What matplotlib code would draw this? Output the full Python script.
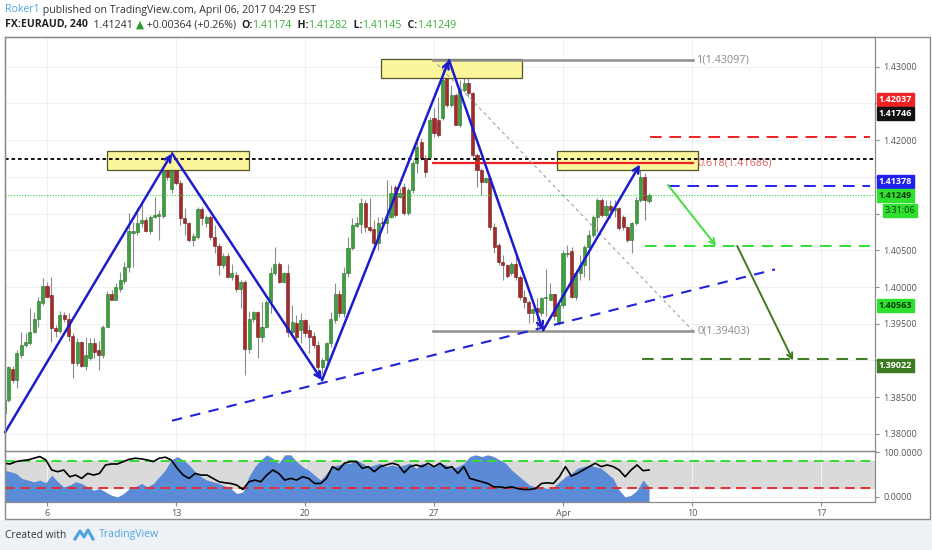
import matplotlib
matplotlib.use("Agg")
import matplotlib.pyplot as plt
import numpy as np
from matplotlib.patches import Rectangle
from matplotlib.lines import Line2D

plt.rcParams['font.family'] = ['Open Sans', 'DejaVu Sans']

W, H = 932, 550

# EURAUD 4h candles
opens = [
    1.3829, 1.3846, 1.3889, 1.3873, 1.3908, 1.3921, 1.3924, 1.3939, 1.3957, 1.3978,
    1.4001, 1.3989, 1.3944, 1.3940, 1.3962, 1.3956, 1.3934, 1.3897, 1.3925, 1.3893,
    1.3904, 1.3924, 1.3914, 1.3908, 1.3946, 1.3991, 1.3983, 1.3998, 1.4008, 1.4027,
    1.4073, 1.4075, 1.4087, 1.4091, 1.4076, 1.4095, 1.4097, 1.4097, 1.4159, 1.4133,
    1.4169, 1.4141, 1.4094, 1.4087, 1.4064, 1.4068, 1.4106, 1.4087, 1.4095, 1.4068,
    1.4056, 1.4030, 1.4042, 1.4013, 1.4017, 1.3998, 1.4007, 1.3915, 1.3956, 1.3966,
    1.3932, 1.3945, 1.3979, 1.4019, 1.4032, 1.4007, 1.4019, 1.3939, 1.3951, 1.3941,
    1.3955, 1.3942, 1.3933, 1.3921, 1.3891, 1.3900, 1.3924, 1.3955, 1.3991, 1.3964,
    1.4019, 1.4053, 1.4083, 1.4086, 1.4114, 1.4082, 1.4079, 1.4060, 1.4088, 1.4087,
    1.4095, 1.4136, 1.4122, 1.4136, 1.4101, 1.4132, 1.4169, 1.4197, 1.4176, 1.4177,
    1.4230, 1.4227, 1.4230, 1.4285, 1.4248, 1.4261, 1.4221, 1.4268, 1.4278, 1.4264,
    1.4180, 1.4159, 1.4143, 1.4148, 1.4082, 1.4057, 1.4034, 1.4030, 1.4019, 1.4031,
    1.4013, 1.3986, 1.3979, 1.3964, 1.3971, 1.3964, 1.3985, 1.3983, 1.3990, 1.3952,
    1.3975, 1.4045, 1.4049, 1.3986, 1.4019, 1.4030, 1.4054, 1.4071, 1.4095, 1.4118,
    1.4098, 1.4110, 1.4105, 1.4107, 1.4096, 1.4082, 1.4064, 1.4087, 1.4118, 1.4150,
    1.41174]
highs = [
    1.3851, 1.3893, 1.3892, 1.3914, 1.3939, 1.3937, 1.3972, 1.3966, 1.3986, 1.4012,
    1.4007, 1.4013, 1.3948, 1.3968, 1.3966, 1.3964, 1.3937, 1.3930, 1.3927, 1.3932,
    1.3930, 1.3930, 1.3927, 1.3948, 1.3994, 1.3996, 1.4005, 1.4020, 1.4034, 1.4101,
    1.4088, 1.4107, 1.4114, 1.4095, 1.4098, 1.4122, 1.4105, 1.4173, 1.4166, 1.4182,
    1.4173, 1.4146, 1.4107, 1.4088, 1.4073, 1.4109, 1.4109, 1.4098, 1.4098, 1.4084,
    1.4060, 1.4046, 1.4046, 1.4032, 1.4020, 1.4009, 1.4009, 1.3968, 1.3968, 1.3968,
    1.3979, 1.3982, 1.4027, 1.4054, 1.4034, 1.4020, 1.4032, 1.3975, 1.3962, 1.3964,
    1.3957, 1.3948, 1.3939, 1.3927, 1.3904, 1.3925, 1.3966, 1.4005, 1.3996, 1.4027,
    1.4068, 1.4094, 1.4095, 1.4121, 1.4118, 1.4121, 1.4091, 1.4095, 1.4095, 1.4146,
    1.4139, 1.4139, 1.4135, 1.4141, 1.4135, 1.4173, 1.4203, 1.4203, 1.4180, 1.4231,
    1.4244, 1.4259, 1.4285, 1.4310, 1.4275, 1.4264, 1.4282, 1.4300, 1.4291, 1.4266,
    1.4182, 1.4162, 1.4150, 1.4150, 1.4087, 1.4060, 1.4043, 1.4032, 1.4034, 1.4046,
    1.4016, 1.3996, 1.3982, 1.3972, 1.3985, 1.3987, 1.4025, 1.4005, 1.3991, 1.3979,
    1.4050, 1.4057, 1.4054, 1.4023, 1.4043, 1.4057, 1.4077, 1.4098, 1.4121, 1.4121,
    1.4118, 1.4118, 1.4118, 1.4109, 1.4098, 1.4083, 1.4088, 1.4122, 1.4159, 1.4155,
    1.41282]
lows = [
    1.3816, 1.3843, 1.3870, 1.3862, 1.3904, 1.3918, 1.3921, 1.3937, 1.3945, 1.3975,
    1.3986, 1.3925, 1.3932, 1.3937, 1.3952, 1.3927, 1.3876, 1.3893, 1.3891, 1.3887,
    1.3900, 1.3904, 1.3887, 1.3903, 1.3945, 1.3982, 1.3982, 1.3993, 1.4004, 1.4020,
    1.4027, 1.4071, 1.4082, 1.4075, 1.4072, 1.4094, 1.4064, 1.4094, 1.4146, 1.4128,
    1.4139, 1.4084, 1.4071, 1.4061, 1.4056, 1.4066, 1.4084, 1.4082, 1.4064, 1.4046,
    1.4016, 1.4026, 1.4012, 1.4009, 1.3993, 1.3971, 1.3880, 1.3910, 1.3952, 1.3903,
    1.3925, 1.3944, 1.3964, 1.4016, 1.4006, 1.4005, 1.3932, 1.3934, 1.3927, 1.3924,
    1.3932, 1.3910, 1.3917, 1.3882, 1.3882, 1.3891, 1.3919, 1.3951, 1.3959, 1.3959,
    1.4013, 1.4050, 1.4082, 1.4073, 1.4075, 1.4075, 1.4057, 1.4050, 1.4082, 1.4073,
    1.4094, 1.4095, 1.4121, 1.4098, 1.4098, 1.4128, 1.4155, 1.4173, 1.4150, 1.4176,
    1.4204, 1.4204, 1.4227, 1.4245, 1.4245, 1.4221, 1.4218, 1.4266, 1.4259, 1.4177,
    1.4136, 1.4125, 1.4141, 1.4077, 1.4047, 1.4030, 1.4009, 1.4012, 1.4016, 1.4009,
    1.3982, 1.3972, 1.3951, 1.3952, 1.3941, 1.3961, 1.3961, 1.3982, 1.3955, 1.3948,
    1.3972, 1.4041, 1.3985, 1.3982, 1.4009, 1.4013, 1.4009, 1.4068, 1.4075, 1.4095,
    1.4095, 1.4094, 1.4095, 1.4077, 1.4077, 1.4061, 1.4047, 1.4084, 1.4116, 1.4091,
    1.41145]
closes = [
    1.3846, 1.3891, 1.3873, 1.3910, 1.3921, 1.3925, 1.3939, 1.3957, 1.3981, 1.4001,
    1.3987, 1.3944, 1.3940, 1.3962, 1.3956, 1.3934, 1.3897, 1.3925, 1.3893, 1.3908,
    1.3924, 1.3912, 1.3908, 1.3946, 1.3991, 1.3983, 1.4000, 1.4009, 1.4027, 1.4076,
    1.4076, 1.4087, 1.4091, 1.4076, 1.4095, 1.4098, 1.4099, 1.4162, 1.4150, 1.4173,
    1.4141, 1.4094, 1.4087, 1.4064, 1.4069, 1.4106, 1.4094, 1.4095, 1.4068, 1.4056,
    1.4030, 1.4042, 1.4013, 1.4019, 1.3998, 1.4007, 1.3915, 1.3956, 1.3966, 1.3932,
    1.3945, 1.3979, 1.4019, 1.4032, 1.4007, 1.4019, 1.3939, 1.3952, 1.3932, 1.3955,
    1.3937, 1.3932, 1.3921, 1.3891, 1.3900, 1.3924, 1.3956, 1.3991, 1.3964, 1.4019,
    1.4053, 1.4084, 1.4087, 1.4114, 1.4082, 1.4077, 1.4060, 1.4087, 1.4087, 1.4095,
    1.4128, 1.4098, 1.4128, 1.4101, 1.4132, 1.4169, 1.4191, 1.4176, 1.4156, 1.4227,
    1.4210, 1.4207, 1.4282, 1.4248, 1.4261, 1.4221, 1.4268, 1.4278, 1.4264, 1.4180,
    1.4159, 1.4143, 1.4148, 1.4082, 1.4054, 1.4034, 1.4030, 1.4015, 1.4031, 1.4013,
    1.3986, 1.3979, 1.3964, 1.3970, 1.3966, 1.3985, 1.3987, 1.3990, 1.3961, 1.3975,
    1.4046, 1.4047, 1.3986, 1.4019, 1.4030, 1.4054, 1.4071, 1.4095, 1.4118, 1.4098,
    1.4110, 1.4105, 1.4107, 1.4080, 1.4082, 1.4064, 1.4087, 1.4118, 1.4150, 1.4118,
    1.41249]

# oscillator pane (sampled evenly over the same candles)
osc_line = [
    75.8, 74.2, 79.5, 81.8, 83.3, 87.1, 90.9, 83.3, 60.6, 56.8,
    60.6, 45.5, 49.2, 41.7, 53.0, 49.2, 53.0, 72.0, 74.2, 74.2,
    79.5, 84.8, 87.1, 85.6, 83.3, 79.5, 87.1, 89.4, 83.3, 64.4,
    49.2, 41.7, 53.0, 49.2, 49.2, 41.7, 34.1, 31.8, 30.3, 26.5,
    16.7, 34.1, 37.9, 34.1, 49.2, 60.6, 53.0, 37.9, 41.7, 37.9,
    45.5, 41.7, 30.3, 30.3, 41.7, 68.2, 60.6, 75.8, 79.5, 79.5,
    64.4, 68.2, 56.8, 68.2, 72.0, 75.8, 72.0, 54.5, 68.2, 72.0,
    68.2, 75.8, 68.2, 75.8, 64.4, 68.2, 53.0, 68.2, 41.7, 37.9,
    34.1, 30.3, 22.7, 22.7, 20.5, 22.7, 18.9, 16.7, 16.7, 18.9,
    30.3, 31.8, 30.3, 45.5, 68.2, 47.0, 53.0, 60.6, 68.2, 75.8,
    68.2, 72.0, 68.2, 60.6, 45.5, 60.6, 72.0, 59.1, 60.6]
osc_area = [
    60.6, 56.8, 53.0, 41.7, 37.9, 34.1, 37.9, 31.8, 49.2, 34.1,
    22.7, 26.5, 34.1, 30.3, 22.7, 15.2, 18.9, 11.4, 3.8, 0.0,
    7.6, 18.9, 22.7, 30.3, 22.7, 30.3, 45.5, 60.6, 83.3, 90.9,
    83.3, 72.0, 56.8, 45.5, 37.9, 34.1, 30.3, 24.2, 18.9, 7.6,
    11.4, 45.5, 68.2, 83.3, 94.8, 87.1, 75.8, 94.8, 94.8, 79.5,
    68.2, 60.6, 49.2, 37.9, 53.0, 68.2, 72.0, 75.8, 75.8, 83.3,
    75.8, 68.2, 72.0, 75.8, 68.2, 72.0, 68.2, 72.0, 75.8, 64.4,
    75.8, 72.0, 68.2, 75.8, 72.0, 64.4, 68.2, 75.8, 90.9, 94.8,
    90.9, 94.8, 90.9, 83.3, 75.8, 60.6, 49.2, 37.9, 26.5, 22.7,
    22.7, 18.9, 22.7, 34.1, 45.5, 53.0, 64.4, 68.2, 72.0, 68.2,
    64.4, 53.0, 41.7, 15.2, 0.0, 3.8, 15.2, 37.9, 22.7]

week_ticks = [10, 40, 70, 100, 130, 160, 190]
week_labels = ['6', '13', '20', '27', 'Apr', '10', '17']

price_ticks = [1.380, 1.385, 1.390, 1.395, 1.400, 1.405, 1.410, 1.415, 1.420, 1.425, 1.430]
# ticks whose labels sit under a coloured price tag
covered_ticks = [1.390, 1.410, 1.415, 1.425]

fib_high, fib_618, fib_low = 1.43097, 1.41686, 1.39403
lvl_black = 1.41746
lvl_red = 1.42037
lvl_blue = 1.41378
lvl_green = 1.40563
lvl_dkgreen = 1.39022
last_price = 1.41249

fig = plt.figure(figsize=(W / 100, H / 100), dpi=100)
fig.patch.set_facecolor('white')


def fx(px):
    return px / W


def fy(py):
    return 1 - py / H


# footer band
fig.add_artist(Rectangle((0, 0), 1, fy(520), transform=fig.transFigure,
                         fc='#eef1f5', ec='none', zorder=0))

ax = fig.add_axes([fx(5), fy(450.5), fx(870), (450.5 - 37) / H])
ax2 = fig.add_axes([fx(5), fy(502), fx(870), (502 - 450.5) / H])

xmin, xmax = 0.23, 202.56
for a in (ax, ax2):
    a.set_xlim(xmin, xmax)
    a.set_xticks(week_ticks)
    a.grid(True, color='#f0f0f0', lw=0.8, zorder=0)
    for s in a.spines.values():
        s.set_color('#8c8c8c')
        s.set_linewidth(0.9)
    a.yaxis.tick_right()
    a.tick_params(axis='y', labelsize=6.5, labelcolor='#555555', color='#8c8c8c', length=3, pad=3)

ax.set_ylim(1.37774, 1.43405)
ax.set_yticks(price_ticks)
ax.set_yticklabels(['' if any(abs(v - cv) < 1e-9 for cv in covered_ticks) else '%.5f' % v
                    for v in price_ticks])
ax.tick_params(axis='x', length=0, labelbottom=False)

# candles
o = np.array(opens)
h = np.array(highs)
l = np.array(lows)
c = np.array(closes)
xi = np.arange(len(c))
up = c >= o
body_col = np.where(up, '#3f9e3f', '#a52a2a')
edge_col = np.where(up, '#2b6f2b', '#6f1d1d')
ax.vlines(xi, l, h, color='#8c8c8c', lw=0.8, zorder=2)
ax.bar(xi, np.maximum(np.abs(c - o), 0.00005), bottom=np.minimum(o, c), width=0.72,
       color=body_col, edgecolor=edge_col, lw=0.4, zorder=3)

# boxes
for x0, x1, y0, y1 in [(23.95, 56.98, 1.4159, 1.4185), (87.67, 120.47, 1.4285, 1.4311),
                       (128.6, 161.4, 1.4159, 1.4185)]:
    ax.add_patch(Rectangle((x0, y0), x1 - x0, y1 - y0, fc='#fbf59b', ec='#55552a', lw=0.9, zorder=4))

# fib retracement
ax.plot([99.77, 160.23], [fib_high, fib_high], color='#8f8f8f', lw=1.8, zorder=5)
ax.plot([99.77, 160.23], [fib_low, fib_low], color='#8f8f8f', lw=1.8, zorder=5)
ax.plot([99.77, 160.23], [fib_618, fib_618], color='#ee2222', lw=1.6, zorder=5)
ax.plot([99.77, 160.23], [fib_high, fib_low], color='#a0a0a0', lw=0.8, ls=(0, (3, 3)), zorder=5)
ax.text(161.2, fib_high, '1(%.5f)' % fib_high, color='#8a8a8a', fontsize=7.8, va='center', zorder=6)
ax.text(161.2, fib_618, '0.618(%.5f)' % fib_618, color='#e06060', fontsize=7.8, va='center', zorder=6)
ax.text(161.2, fib_low, '0(%.5f)' % fib_low, color='#8a8a8a', fontsize=7.8, va='center', zorder=6)

# horizontal levels
ax.axhline(lvl_black, color='black', lw=1.3, ls=(0, (2, 1.6)), zorder=6)
ax.axhline(last_price, color='#33dd33', lw=0.8, ls=(0, (1, 1.5)), zorder=6)
ax.plot([150.2, 201.4], [lvl_red, lvl_red], color='#ee2222', lw=1.4, ls=(0, (6, 4)), zorder=6)
ax.plot([154.4, 201.4], [lvl_blue, lvl_blue], color='#2222ee', lw=1.4, ls=(0, (6, 4)), zorder=6)
ax.plot([149.1, 201.4], [lvl_green, lvl_green], color='#33dd33', lw=1.4, ls=(0, (6, 4)), zorder=6)
ax.plot([148.4, 202.6], [lvl_dkgreen, lvl_dkgreen], color='#3d7a22', lw=1.4, ls=(0, (6, 4)), zorder=6)

# trend line
ax.plot([39.07, 179.3], [1.3818, 1.4024], color='#2222dd', lw=1.5, ls=(0, (5, 4)), zorder=6)

# zigzag with arrowheads
zig_x = [0.23, 39.07, 73.95, 103.49, 125.35, 147.91]
zig_y = [1.3802, 1.4182, 1.3873, 1.4309, 1.3941, 1.4167]
for i in range(len(zig_x) - 1):
    ax.annotate('', xy=(zig_x[i + 1], zig_y[i + 1]), xytext=(zig_x[i], zig_y[i]),
                arrowprops=dict(arrowstyle='->', color='#1c1ccc', lw=1.8,
                                shrinkA=0, shrinkB=0, mutation_scale=11), zorder=7)

ax.annotate('', xy=(165.6, 1.4056), xytext=(154.4, 1.4139),
            arrowprops=dict(arrowstyle='->', color='#44dd44', lw=1.4, shrinkA=0, shrinkB=0,
                            mutation_scale=10), zorder=7)
ax.annotate('', xy=(183.5, 1.3900), xytext=(170.5, 1.4056),
            arrowprops=dict(arrowstyle='->', color='#3d7a22', lw=1.4, shrinkA=0, shrinkB=0,
                            mutation_scale=10), zorder=7)

# price-axis tags
ytr = ax.get_yaxis_transform()
tags = [(1.4255, '1.42037', '#ee2222', 'white'),
        (1.42362, '1.41746', '#111111', 'white'),
        (1.41435, '1.41378', '#2020ee', 'white'),
        (1.41247, '1.41249', '#2fe02f', '#0b3d0b'),
        (1.39744, '1.40563', '#2fe02f', '#0b3d0b'),
        (1.38933, '1.39022', '#3d7a22', 'white')]
for yv, s, fc, tc in tags:
    ax.text(1.0045, yv, s, transform=ytr, fontsize=6.5, fontweight='bold', color=tc,
            va='center', ha='left', clip_on=False, zorder=10,
            bbox=dict(boxstyle='square,pad=0.22', fc=fc, ec=fc))
ax.text(1.011, 1.4104, '3:31:06', transform=ytr, fontsize=6.5, color='#0b3d0b',
        va='center', ha='left', clip_on=False, zorder=10,
        bbox=dict(boxstyle='square,pad=0.22', fc='#2fe02f', ec='#2fe02f'))

# oscillator pane
ax2.set_ylim(-11.4, 104.5)
ax2.set_yticks([0, 100])
ax2.set_yticklabels(['0.0000', '100.0000'])
ax2.set_xticks(week_ticks)
ax2.set_xticklabels(week_labels)
ax2.tick_params(axis='x', labelsize=6.5, labelcolor='#555555', color='#8c8c8c', length=3, pad=2)
ax2.axhspan(20, 80, color='#dadada', zorder=1)
xo = np.linspace(0, len(c) - 1, len(osc_area))
ax2.fill_between(xo, -11.4, osc_area, color='#5b8bd6', lw=0, zorder=2)
ax2.plot(xo, osc_line, color='black', lw=1.2, zorder=4)
ax2.axhline(80, color='#33dd33', lw=1.4, ls=(0, (5, 3)), zorder=3)
ax2.axhline(20, color='#dd3333', lw=1.4, ls=(0, (5, 3)), zorder=3)

# outer frame
fig.add_artist(Rectangle((fx(5), fy(519)), fx(925), (519 - 37) / H, transform=fig.transFigure,
                         fill=False, ec='#8c8c8c', lw=1.0))

# header
renderer = fig.canvas.get_renderer()


def text_run(x_px, y_px, parts, size):
    for s, color, weight in parts:
        t = fig.text(fx(x_px), fy(y_px), s, color=color, fontsize=size, fontweight=weight,
                     va='center', ha='left')
        x_px += t.get_window_extent(renderer=renderer).width


text_run(5, 10, [('Roker1', '#4ea6dc', 'normal'),
                 (' published on TradingView.com, April 06, 2017 04:29 EST', '#333333', 'normal')], 7.6)
green = '#3aae3a'
text_run(5, 25, [('FX:EURAUD, 240', '#222222', 'bold'),
                 ('  1.41241 ', '#333333', 'normal'),
                 ('\u25b2', '#2a9d2a', 'normal'),
                 (' +0.00364 (+0.26%)  ', '#333333', 'normal'),
                 ('O:', '#222222', 'bold'), ('1.41174', green, 'normal'),
                 ('  H:', '#222222', 'bold'), ('1.41282', green, 'normal'),
                 ('  L:', '#222222', 'bold'), ('1.41145', green, 'normal'),
                 ('  C:', '#222222', 'bold'), ('1.41249', green, 'normal')], 7.6)

# footer
fig.text(fx(5), fy(535), 'Created with', fontsize=7.4, color='#333333', va='center')
fig.add_artist(Line2D([fx(75), fx(80), fx(84), fx(88), fx(93)],
                      [fy(539), fy(531), fy(537), fy(530), fy(539)],
                      transform=fig.transFigure, color='#4fa3e0', lw=2.2))
fig.text(fx(99), fy(535), 'TradingView', fontsize=7.6, color='#4fa3e0', va='center')

fig.savefig('out.png', dpi=100, facecolor=fig.get_facecolor())
